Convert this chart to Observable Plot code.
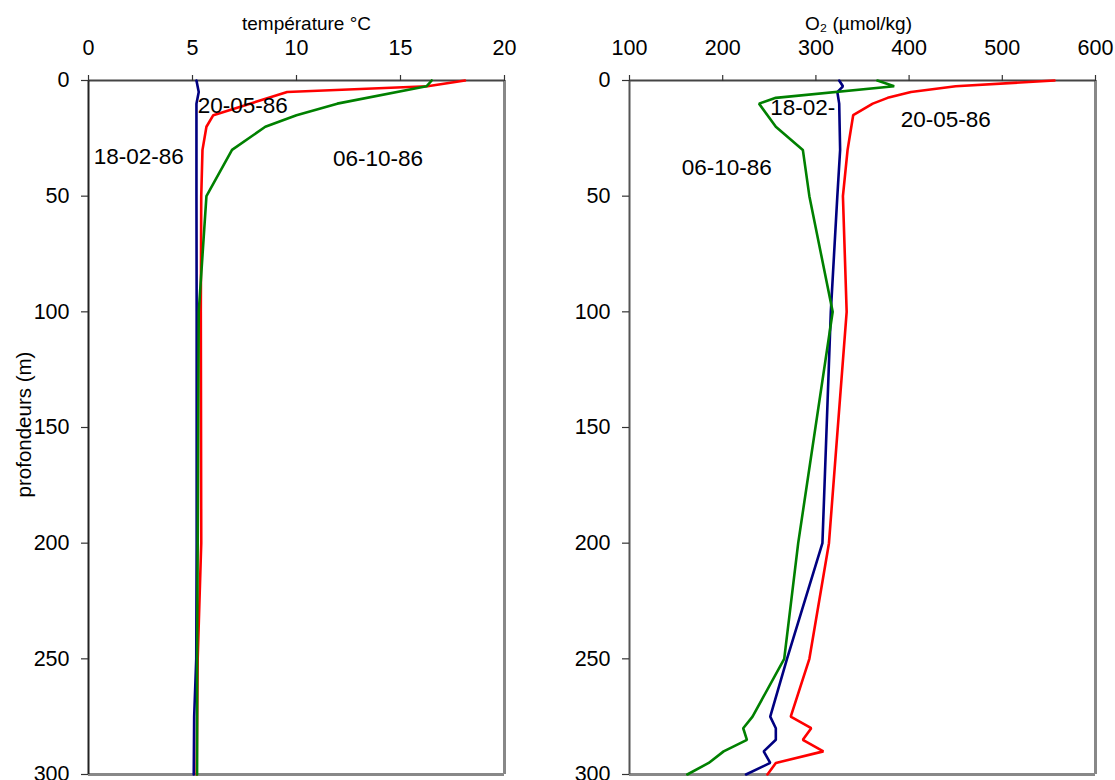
<!DOCTYPE html>
<html>
<head>
<meta charset="utf-8">
<script src="https://cdn.jsdelivr.net/npm/d3@7"></script>
<script src="https://cdn.jsdelivr.net/npm/@observablehq/plot@0.6"></script>
<style>
  body { margin: 0; background: #fff; }
  #wrap { display: flex; width: 1115px; height: 780px; }
  svg { overflow: visible; }
</style>
</head>
<body>
<div id="wrap"></div>
<script>
// ---------- Temperature profiles (°C vs depth m) ----------
const series = ["18-02-86", "20-05-86", "06-10-86"];
const colors = ["#000080", "#ff0000", "#008000"];

const tempDepthFeb = [0, 5, 10, 50, 100, 200, 250, 275, 300];
const tempFeb      = [5.19, 5.3, 5.19, 5.19, 5.2, 5.2, 5.18, 5.08, 5.06];

const tempDepthMay = [0, 2.5, 5, 15, 20, 30, 50, 100, 200, 250, 300];
const tempMay      = [18.1, 16.3, 9.55, 6.0, 5.67, 5.48, 5.42, 5.4, 5.42, 5.25, 5.2];

const tempDepthOct = [0, 2.5, 10, 15, 20, 30, 50, 100, 200, 250, 300];
const tempOct      = [16.5, 16.25, 11.96, 10.0, 8.5, 6.9, 5.67, 5.3, 5.25, 5.22, 5.22];

// ---------- Oxygen profiles (µmol/kg vs depth m) ----------
const o2DepthFeb = [0, 2.5, 5, 10, 30, 50, 100, 200, 250, 275, 280, 285, 290, 295, 300];
const o2Feb      = [325, 329, 323, 325, 326, 323, 316, 307, 269, 251, 257, 257, 244, 251, 225];

const o2DepthMay = [0, 2.5, 5, 7.5, 10, 15, 30, 50, 100, 200, 250, 275, 280, 285, 290, 295, 300];
const o2May      = [556, 450, 402, 377, 361, 340, 334, 329, 333, 314, 293, 273, 295, 286, 308, 257, 248];

const o2DepthOct = [0, 2.5, 7.5, 10, 20, 30, 50, 100, 200, 250, 275, 280, 285, 290, 295, 300];
const o2Oct      = [366, 384, 257, 239, 257, 286, 293, 318, 281, 266, 232, 222, 226, 201, 185, 162];

// ---------- Axis ticks & labels ----------
const tempTicks = [0, 5, 10, 15, 20];
const o2Ticks = [100, 200, 300, 400, 500, 600];
const depthTicks = [0, 50, 100, 150, 200, 250, 300];
const tempTitle = "température °C";
const o2Title = "O₂ (µmol/kg)";
const depthTitle = "profondeurs (m)";

// series label anchor points (in data units)
const tempLabels = [
  {text: "20-05-86", v: 5.25, d: 10.8},
  {text: "18-02-86", v: 0.25, d: 32.8},
  {text: "06-10-86", v: 11.75, d: 33.7}
];
const o2Labels = [
  {text: "18-02-", v: 251, d: 12},
  {text: "20-05-86", v: 391, d: 17},
  {text: "06-10-86", v: 156, d: 37.6}
];

function build(depthsList, valuesList) {
  const rows = [];
  series.forEach((s, i) => {
    depthsList[i].forEach((d, j) => rows.push({series: s, depth: d, value: valuesList[i][j]}));
  });
  return rows;
}

const tempRows = build([tempDepthFeb, tempDepthMay, tempDepthOct], [tempFeb, tempMay, tempOct]);
const o2Rows = build([o2DepthFeb, o2DepthMay, o2DepthOct], [o2Feb, o2May, o2Oct]);

const font = "'Liberation Sans', Arial, Helvetica, sans-serif";
const drawOrder = ["20-05-86", "18-02-86", "06-10-86"];

function panel({rows, width, ml, mr, xDomain, xTicks, title, titleDx, labels, leftAxisColor, withYLabel}) {
  const marks = [
    Plot.ruleX([xDomain[1]], {stroke: "#888", strokeWidth: 3}),
    Plot.ruleY([300], {stroke: "#888", strokeWidth: 3}),
    Plot.ruleY([0], {stroke: "#444", strokeWidth: 2}),
    Plot.ruleX([xDomain[0]], {stroke: leftAxisColor, strokeWidth: 2}),
    Plot.axisX({anchor: "top", ticks: xTicks, tickSize: 6, tickPadding: 20, label: null, stroke: "#333", strokeWidth: 1.2, fontSize: 21.5}),
    Plot.axisY({anchor: "left", ticks: depthTicks, tickSize: 7, tickPadding: 12, label: null, stroke: "#333", strokeWidth: 1.2, fontSize: 21.5}),
    ...drawOrder.map(s => Plot.line(rows.filter(r => r.series === s), {
      x: "value", y: "depth", stroke: colors[series.indexOf(s)], strokeWidth: 2.6, strokeLinejoin: "miter"
    })),
    Plot.text(labels, {x: "v", y: "d", text: "text", textAnchor: "start", lineAnchor: "middle", fill: "#000", fontSize: 22.5}),
    Plot.text([title], {frameAnchor: "top", dy: -57, dx: titleDx, textAnchor: "middle", lineAnchor: "middle", fill: "#000", fontSize: 19})
  ];
  if (withYLabel) {
    marks.push(Plot.text([depthTitle], {frameAnchor: "left", dx: -64, dy: -3, rotate: -90, textAnchor: "middle", lineAnchor: "middle", fill: "#000", fontSize: 20.5}));
  }
  return Plot.plot({
    width, height: 780,
    marginLeft: ml, marginRight: mr, marginTop: 80, marginBottom: 6,
    style: {fontFamily: font, fontSize: "21px", color: "#000", background: "transparent"},
    x: {domain: xDomain},
    y: {domain: [0, 300], reverse: true},
    marks
  });
}

const wrap = document.getElementById("wrap");
wrap.appendChild(panel({
  rows: tempRows, width: 560, ml: 88, mr: 56, xDomain: [0, 20], xTicks: tempTicks,
  title: tempTitle, titleDx: 10, labels: tempLabels, leftAxisColor: "#222", withYLabel: true
}));
wrap.appendChild(panel({
  rows: o2Rows, width: 555, ml: 69, mr: 20, xDomain: [100, 600], xTicks: o2Ticks,
  title: o2Title, titleDx: -4, labels: o2Labels, leftAxisColor: "#555", withYLabel: false
}));
</script>
</body>
</html>
